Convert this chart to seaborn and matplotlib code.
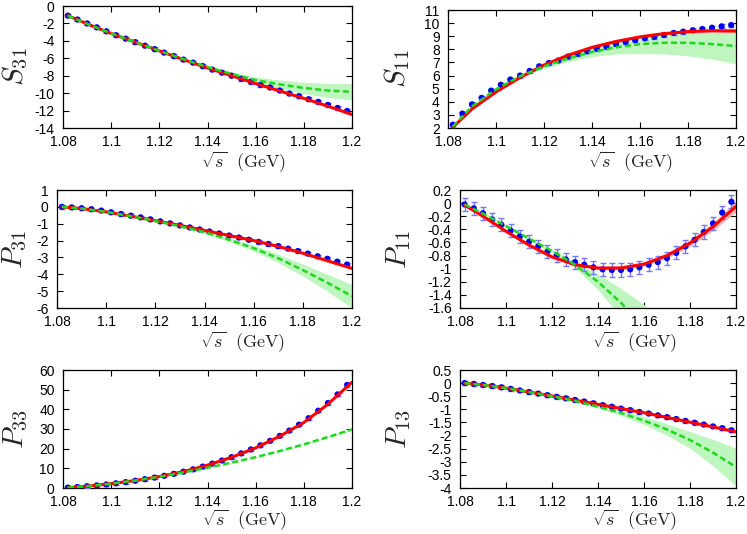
import matplotlib
matplotlib.use('Agg')
import matplotlib.pyplot as plt
import seaborn as sns
from matplotlib.ticker import FormatStrFormatter, MultipleLocator

# data points (sqrt(s) in GeV)
x_data = [1.082, 1.086, 1.090, 1.094, 1.098, 1.102, 1.106, 1.110, 1.114, 1.118,
          1.122, 1.126, 1.130, 1.134, 1.138, 1.142, 1.146, 1.150, 1.154, 1.158,
          1.162, 1.166, 1.170, 1.174, 1.178, 1.182, 1.186, 1.190, 1.194, 1.198]
# curve sampling
x_curve = [1.082, 1.09, 1.10, 1.11, 1.12, 1.13, 1.14, 1.15, 1.16, 1.17, 1.18, 1.19, 1.20]

# S31
s31_pts = [-1.1, -1.55, -2.0, -2.45, -2.9, -3.35, -3.75, -4.15, -4.55, -4.95,
           -5.35, -5.75, -6.15, -6.5, -6.9, -7.3, -7.65, -8.0, -8.35, -8.7,
           -9.05, -9.35, -9.7, -10.05, -10.35, -10.7, -11.0, -11.35, -11.7, -12.05]
s31_err = 0.2
s31_red = [-1.1, -2.05, -3.15, -4.15, -5.15, -6.15, -7.1, -8.0, -8.9, -9.75, -10.6, -11.5, -12.45]
s31_green = [-1.1, -2.05, -3.15, -4.15, -5.15, -6.1, -7.0, -7.8, -8.5, -9.0, -9.4, -9.7, -9.85]
s31_green_lo = [-1.15, -2.1, -3.2, -4.2, -5.2, -6.18, -7.15, -8.05, -8.85, -9.5, -10.05, -10.5, -10.8]
s31_green_hi = [-1.05, -2.0, -3.1, -4.1, -5.1, -6.02, -6.85, -7.55, -8.15, -8.5, -8.75, -8.9, -8.9]

# S11
s11_pts = [2.25, 3.1, 3.8, 4.3, 4.85, 5.3, 5.7, 6.0, 6.35, 6.7,
           6.95, 7.15, 7.45, 7.65, 7.85, 8.05, 8.2, 8.4, 8.55, 8.7,
           8.85, 8.95, 9.1, 9.25, 9.35, 9.45, 9.55, 9.65, 9.75, 9.85]
s11_err = 0.15
s11_red = [2.05, 3.45, 4.75, 5.85, 6.8, 7.55, 8.15, 8.6, 8.95, 9.2, 9.35, 9.42, 9.4]
s11_red_lo = [2.0, 3.4, 4.7, 5.8, 6.75, 7.5, 8.1, 8.55, 8.88, 9.12, 9.25, 9.3, 9.25]
s11_red_hi = [2.1, 3.5, 4.8, 5.9, 6.85, 7.6, 8.2, 8.65, 9.02, 9.28, 9.45, 9.54, 9.55]
s11_green = [2.1, 3.65, 4.95, 5.95, 6.7, 7.3, 7.8, 8.15, 8.4, 8.5, 8.5, 8.4, 8.25]
s11_green_lo = [2.05, 3.55, 4.85, 5.85, 6.55, 7.05, 7.45, 7.65, 7.7, 7.65, 7.5, 7.25, 6.9]
s11_green_hi = [2.15, 3.75, 5.05, 6.05, 6.85, 7.55, 8.15, 8.6, 9.0, 9.2, 9.35, 9.4, 9.45]

# P31
p31_pts = [0.0, -0.03, -0.08, -0.14, -0.22, -0.32, -0.42, -0.52, -0.62, -0.74,
           -0.86, -0.98, -1.1, -1.22, -1.34, -1.46, -1.58, -1.7, -1.82, -1.95,
           -2.08, -2.2, -2.33, -2.48, -2.62, -2.77, -2.93, -3.08, -3.25, -3.42]
p31_err = 0.1
p31_red = [0.0, -0.1, -0.3, -0.55, -0.82, -1.1, -1.4, -1.7, -2.0, -2.35, -2.75, -3.2, -3.65]
p31_green = [0.0, -0.1, -0.3, -0.55, -0.84, -1.15, -1.5, -1.95, -2.45, -3.05, -3.75, -4.5, -5.3]
p31_green_lo = [-0.02, -0.12, -0.32, -0.58, -0.88, -1.2, -1.58, -2.07, -2.63, -3.3, -4.1, -5.0, -6.0]
p31_green_hi = [0.02, -0.08, -0.28, -0.52, -0.8, -1.1, -1.42, -1.83, -2.27, -2.8, -3.4, -4.0, -4.6]

# P11
p11_pts = [-0.02, -0.08, -0.155, -0.25, -0.33, -0.42, -0.51, -0.59, -0.66, -0.74,
           -0.8, -0.86, -0.9, -0.94, -0.98, -1.01, -1.02, -1.02, -1.01, -0.98,
           -0.94, -0.9, -0.84, -0.76, -0.66, -0.56, -0.44, -0.31, -0.145, 0.02]
p11_err = 0.1
p11_red = [-0.03, -0.2, -0.43, -0.64, -0.82, -0.94, -0.99, -0.99, -0.93, -0.8, -0.61, -0.36, -0.05]
p11_red_lo = [-0.05, -0.22, -0.45, -0.66, -0.84, -0.96, -1.01, -1.02, -0.96, -0.84, -0.66, -0.42, -0.13]
p11_red_hi = [-0.01, -0.18, -0.41, -0.62, -0.8, -0.92, -0.97, -0.96, -0.9, -0.76, -0.56, -0.3, 0.03]
x_p11_green = [1.082, 1.09, 1.10, 1.11, 1.12, 1.13, 1.14, 1.15, 1.16, 1.17]
p11_green = [-0.02, -0.16, -0.35, -0.54, -0.73, -0.94, -1.2, -1.52, -1.9, -2.35]
p11_green_lo = [-0.03, -0.17, -0.37, -0.56, -0.76, -0.99, -1.32, -1.74, -2.25, -2.8]
p11_green_hi = [-0.01, -0.15, -0.33, -0.52, -0.7, -0.89, -1.08, -1.3, -1.55, -1.9]

# P33
p33_pts = [0.2, 0.5, 0.9, 1.3, 1.8, 2.4, 3.0, 3.7, 4.5, 5.3,
           6.2, 7.2, 8.3, 9.5, 10.9, 12.4, 14.0, 15.7, 17.6, 19.6,
           21.7, 24.0, 26.5, 29.2, 32.2, 35.5, 39.3, 43.2, 47.6, 52.4]
p33_err = 0.8
p33_red = [0.2, 0.9, 2.2, 3.8, 5.8, 8.3, 11.6, 15.6, 20.4, 26.3, 33.3, 42.6, 53.8]
p33_green = [0.2, 0.9, 2.2, 3.8, 5.7, 7.9, 10.3, 12.9, 15.7, 18.8, 22.2, 25.9, 29.8]
p33_green_lo = [0.15, 0.85, 2.15, 3.72, 5.6, 7.78, 10.15, 12.7, 15.45, 18.5, 21.85, 25.5, 29.3]
p33_green_hi = [0.25, 0.95, 2.25, 3.88, 5.8, 8.02, 10.45, 13.1, 15.95, 19.1, 22.55, 26.3, 30.3]

# P13
p13_pts = [0.0, -0.03, -0.07, -0.11, -0.16, -0.22, -0.28, -0.34, -0.4, -0.46,
           -0.52, -0.58, -0.64, -0.7, -0.77, -0.84, -0.9, -0.97, -1.03, -1.1,
           -1.16, -1.23, -1.3, -1.37, -1.44, -1.51, -1.58, -1.65, -1.72, -1.8]
p13_err = 0.07
p13_red = [0.0, -0.07, -0.19, -0.34, -0.49, -0.65, -0.81, -0.97, -1.13, -1.31, -1.49, -1.67, -1.86]
p13_green = [0.0, -0.07, -0.19, -0.34, -0.5, -0.68, -0.9, -1.14, -1.43, -1.77, -2.17, -2.65, -3.2]
p13_green_lo = [-0.01, -0.08, -0.2, -0.36, -0.53, -0.72, -0.96, -1.24, -1.58, -1.99, -2.49, -3.15, -3.92]
p13_green_hi = [0.01, -0.06, -0.18, -0.32, -0.47, -0.64, -0.84, -1.04, -1.28, -1.55, -1.85, -2.15, -2.48]

sns.set_style('ticks')
plt.rcParams['font.family'] = ['Liberation Sans', 'DejaVu Sans']
plt.rcParams['mathtext.fontset'] = 'cm'
plt.rcParams['axes.unicode_minus'] = False

W, H = 747, 534
fig = plt.figure(figsize=(W / 100, H / 100), dpi=100)

RED = '#ff0000'
GREEN = '#1ed81e'
BAND_G = '#bff5bf'
BAND_R = '#f7a0a0'
BLUE = '#0000f0'
EBAR = '#7878ff'


def panel(rect, label, label_x, xlab_pos, ylim, ystep, pts, err, red, green, g_lo, g_hi,
          r_lo=None, r_hi=None, xg=None):
    L, T, R, B = rect
    ax = fig.add_axes([L / W, 1 - B / H, (R - L) / W, (B - T) / H])
    if xg is None:
        xg = x_curve
    ax.fill_between(xg, g_lo, g_hi, color=BAND_G, lw=0, zorder=1)
    if r_lo is not None:
        ax.fill_between(x_curve, r_lo, r_hi, color=BAND_R, lw=0, alpha=0.8, zorder=2)
    ax.errorbar(x_data, pts, yerr=err, fmt='none', ecolor=EBAR, elinewidth=1,
                capsize=2.5, capthick=1, zorder=3)
    sns.scatterplot(x=x_data, y=pts, ax=ax, color=BLUE, s=20, edgecolor='none', zorder=4)
    sns.lineplot(x=x_curve, y=red, ax=ax, color=RED, lw=2.2, zorder=5)
    sns.lineplot(x=xg, y=green, ax=ax, color=GREEN, lw=1.8, zorder=6)
    ax.lines[-1].set_dashes((2.4, 1.3))
    ax.set_xlim(1.08, 1.2)
    ax.set_ylim(*ylim)
    ax.xaxis.set_major_locator(MultipleLocator(0.02))
    ax.yaxis.set_major_locator(MultipleLocator(ystep))
    ax.xaxis.set_major_formatter(FormatStrFormatter('%g'))
    ax.yaxis.set_major_formatter(FormatStrFormatter('%g'))
    ax.tick_params(direction='in', top=True, right=True, length=4, width=0.8,
                   labelsize=10, colors='black')
    ax.tick_params(axis='x', pad=5)
    ax.tick_params(axis='y', pad=6)
    for sp in ax.spines.values():
        sp.set_linewidth(0.9)
        sp.set_color('black')
    fig.text(label_x / W, 1 - (T + B) / 2 / H, label, rotation=90, fontsize=21,
             ha='center', va='center')
    fig.text(xlab_pos[0] / W, 1 - xlab_pos[1] / H, r'$\sqrt{s}\ \ (\mathrm{GeV})$',
             fontsize=13, ha='center', va='center')
    return ax


panel((63, 6, 352, 128), r'$S_{31}$', 15, (244, 162), (-14, 0), 2,
      s31_pts, s31_err, s31_red, s31_green, s31_green_lo, s31_green_hi)
panel((448, 10, 736, 128), r'$S_{11}$', 397, (631, 162), (2, 11), 1,
      s11_pts, s11_err, s11_red, s11_green, s11_green_lo, s11_green_hi,
      s11_red_lo, s11_red_hi)
panel((57, 190, 352, 308), r'$P_{31}$', 15, (243, 342), (-6, 1), 1,
      p31_pts, p31_err, p31_red, p31_green, p31_green_lo, p31_green_hi)
panel((460, 190, 736, 308), r'$P_{11}$', 399, (635, 342), (-1.6, 0.2), 0.2,
      p11_pts, p11_err, p11_red, p11_green, p11_green_lo, p11_green_hi,
      p11_red_lo, p11_red_hi, xg=x_p11_green)
panel((63, 370, 352, 488), r'$P_{33}$', 16, (245, 520), (0, 60), 10,
      p33_pts, p33_err, p33_red, p33_green, p33_green_lo, p33_green_hi)
panel((460, 370, 736, 488), r'$P_{13}$', 399, (635, 520), (-4, 0.5), 0.5,
      p13_pts, p13_err, p13_red, p13_green, p13_green_lo, p13_green_hi)

fig.savefig('out.png', dpi=100)
